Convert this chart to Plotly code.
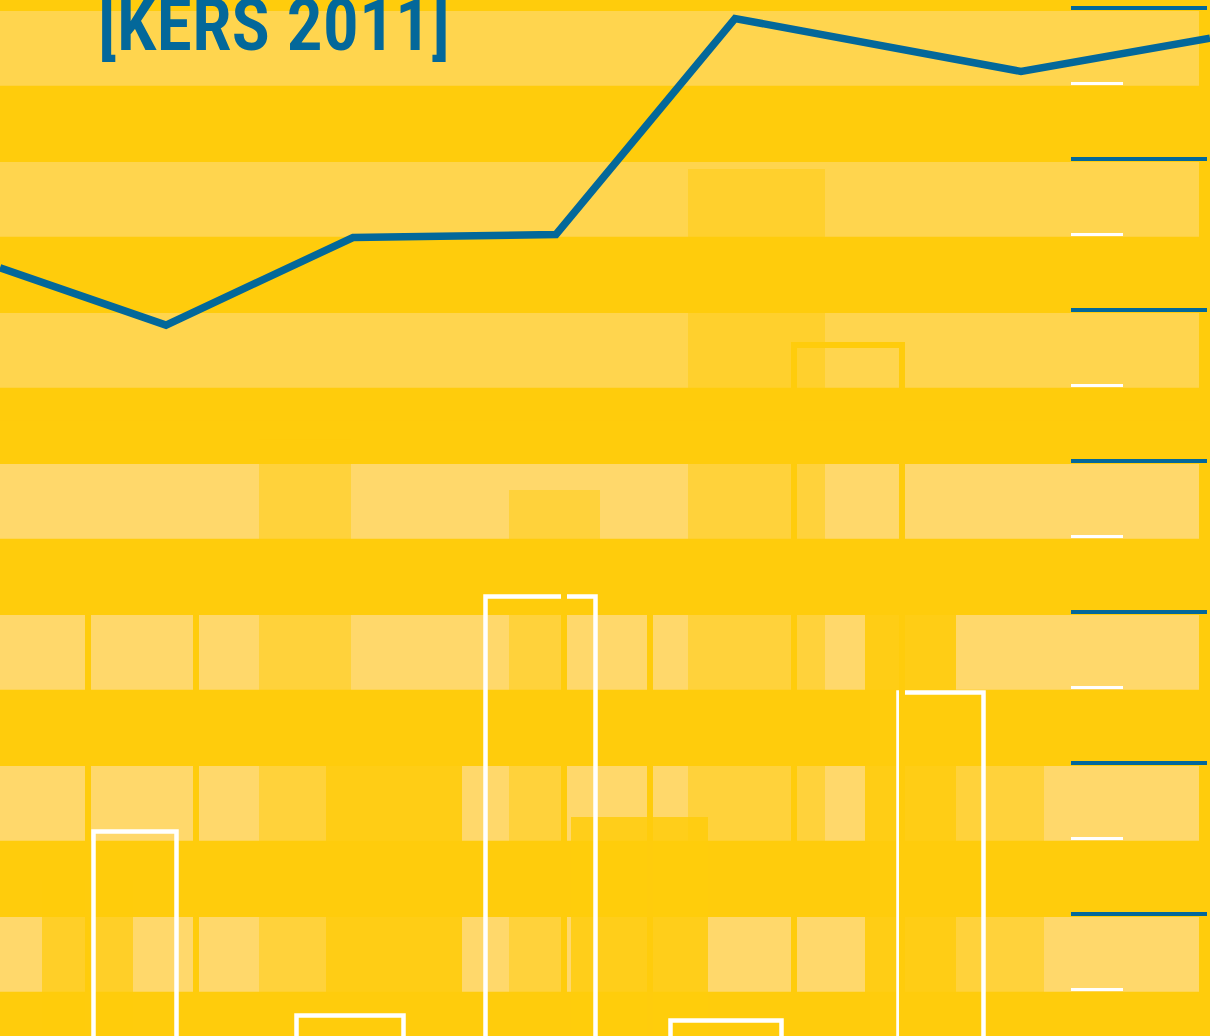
import plotly.graph_objects as go

# ---------------- data ----------------
# blue line series
line_x = [0.0, 1.66, 3.53, 5.56, 7.35, 10.21, 12.1]
line_y = [52.8, 49.0, 54.8, 55.0, 69.3, 65.8, 68.0]

# white outlined bars
bar_x = [1.35, 3.50, 5.405, 7.26, 9.41]
bar_w = [0.83, 1.07, 1.10, 1.11, 0.85]
bar_top = [15.46, 3.28, 31.03, 2.95, 24.67]

# faint (background-coloured) outlined bars
ghost_line_x = [1.42, 6.07, 8.48]
ghost_line_w = [1.08, 0.86, 1.08]
ghost_line_top = [32.8, 32.8, 47.68]

# faint filled blocks (background-coloured veils)
veil_x = [5.995, 7.565, 3.05, 2.925, 3.94, 5.545, 5.35, 6.395, 9.105, 10.0, 0.875]
veil_w = [11.99, 1.37, 0.92, 0.67, 1.36, 0.91, 0.52, 1.37, 0.91, 0.88, 0.91]
veil_top = [71.0, 59.34, 41.4, 24.2, 22.85, 38.08, 30.8, 16.42, 32.45, 22.85, 12.25]
veil_base = [42.7, 12.25, 24.2, 0.0, 0.0, 30.8, 0.0, 0.0, 0.0, 0.0, 0.0]
veil_alpha = [0.3, 0.5, 0.5, 0.5, 0.9, 0.5, 0.5, 0.85, 0.9, 0.5, 0.7]

# axis ticks
major_ticks = [10, 20, 30, 40, 50, 60, 70]
minor_ticks = [5, 15, 25, 35, 45, 55, 65]

title_text = "[KERS 2011]"

# ---------------- style ----------------
BG = "#FFCC0C"
BAND = "#FFD86B"
BLUE = "#03689A"
W, H = 1210, 1036
Y_RANGE = [1.921, 70.53]
X_RANGE = [0, 12.1]

fig = go.Figure()

# veils
fig.add_trace(go.Bar(
    x=veil_x, width=veil_w, base=veil_base,
    y=[t - b for t, b in zip(veil_top, veil_base)],
    marker=dict(color=[f"rgba(255,204,12,{a})" for a in veil_alpha], line=dict(width=0)),
    hoverinfo="skip", showlegend=False))

# white outlined bars
fig.add_trace(go.Bar(
    x=bar_x, width=bar_w, base=[0] * len(bar_x), y=bar_top,
    marker=dict(color="rgba(0,0,0,0)", line=dict(color="white", width=4.5)),
    hoverinfo="skip", showlegend=False))

# ghost outlined bars
fig.add_trace(go.Bar(
    x=ghost_line_x, width=ghost_line_w, base=[0] * len(ghost_line_x), y=ghost_line_top,
    marker=dict(color="rgba(0,0,0,0)", line=dict(color=BG, width=6)),
    hoverinfo="skip", showlegend=False))

# blue line
fig.add_trace(go.Scatter(
    x=line_x, y=line_y, mode="lines",
    line=dict(color=BLUE, width=7.5), hoverinfo="skip", showlegend=False))

# invisible traces carrying the tick axes
fig.add_trace(go.Scatter(x=[1] * len(major_ticks), y=major_ticks, yaxis="y2", mode="markers",
                         marker=dict(opacity=0), hoverinfo="skip", showlegend=False))
fig.add_trace(go.Scatter(x=[1] * len(minor_ticks), y=minor_ticks, yaxis="y3", mode="markers",
                         marker=dict(opacity=0), hoverinfo="skip", showlegend=False))

# light horizontal bands derived from the tick values
shapes = []
for t in major_ticks:
    shapes.append(dict(type="rect", xref="x", yref="y", x0=0, x1=11.99,
                       y0=t - 5.15, y1=t - 0.2, fillcolor=BAND, line=dict(width=0),
                       layer="below"))

fig.update_layout(
    width=W, height=H, margin=dict(l=0, r=0, t=0, b=0, pad=0),
    paper_bgcolor=BG, plot_bgcolor=BG,
    barmode="overlay", showlegend=False,
    shapes=shapes,
    xaxis=dict(range=X_RANGE, visible=False, fixedrange=True),
    yaxis=dict(range=Y_RANGE, visible=False, fixedrange=True),
    yaxis2=dict(range=Y_RANGE, overlaying="y", anchor="free", position=1207 / 1210,
                side="right", ticks="inside", ticklen=136, tickwidth=4, tickcolor=BLUE,
                tickmode="array", tickvals=major_ticks, showticklabels=False,
                showgrid=False, zeroline=False, showline=False, fixedrange=True),
    yaxis3=dict(range=Y_RANGE, overlaying="y", anchor="free", position=1123 / 1210,
                side="right", ticks="inside", ticklen=52, tickwidth=3, tickcolor="white",
                tickmode="array", tickvals=minor_ticks, showticklabels=False,
                showgrid=False, zeroline=False, showline=False, fixedrange=True),
    annotations=[dict(text=f'<span style="font-stretch:75%">{title_text}</span>',
                      xref="paper", yref="paper",
                      x=96 / W, y=1 - 70 / H, xanchor="left", yanchor="bottom",
                      showarrow=False,
                      font=dict(family="Roboto", size=72, color=BLUE, weight=600))],
)

fig.write_html("out.html", config={"displayModeBar": False, "staticPlot": True},
               post_script="document.body.style.margin='0';document.body.style.overflow='hidden';")
